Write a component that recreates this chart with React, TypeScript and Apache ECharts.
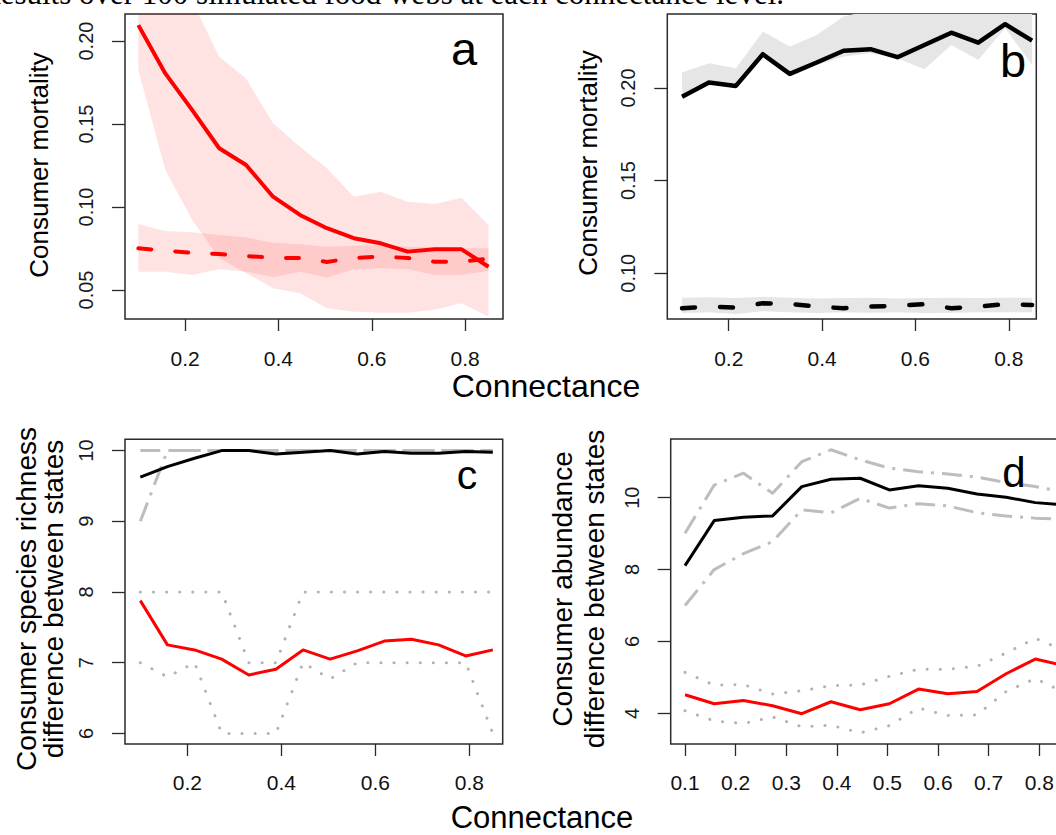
import React, { useEffect, useRef } from 'react';
import * as echarts from 'echarts';

// ---------- data ----------
const connectance = [0.1, 0.1577, 0.2154, 0.2731, 0.3308, 0.3885, 0.4462, 0.5038, 0.5615, 0.6192, 0.6769, 0.7346, 0.7923, 0.85];

// panel a (red)
const aSolidMean = [0.2096, 0.1805, 0.1584, 0.1354, 0.1253, 0.1062, 0.0952, 0.0872, 0.0812, 0.0781, 0.0731, 0.0745, 0.0745, 0.064];
const aSolidHigh = [0.25, 0.24, 0.224, 0.1905, 0.1775, 0.1504, 0.1363, 0.1233, 0.1062, 0.1092, 0.1032, 0.1018, 0.1056, 0.0892];
const aSolidLow = [0.1825, 0.1223, 0.0922, 0.0693, 0.0601, 0.051, 0.048, 0.039, 0.0369, 0.0363, 0.0363, 0.038, 0.042, 0.0339];
const aDashedMean = [0.0751, 0.0737, 0.0723, 0.0717, 0.0705, 0.0693, 0.0693, 0.0669, 0.0693, 0.0701, 0.0693, 0.067, 0.067, 0.0689];
const aDashedHigh = [0.0898, 0.0855, 0.0848, 0.0831, 0.0817, 0.0785, 0.0775, 0.0761, 0.0767, 0.0771, 0.0761, 0.0757, 0.0751, 0.0751];
const aDashedLow = [0.061, 0.061, 0.059, 0.0625, 0.061, 0.0577, 0.061, 0.0574, 0.0625, 0.0631, 0.0625, 0.059, 0.059, 0.0616];

// panel b (black)
const bSolidMean = [0.1953, 0.2029, 0.2011, 0.2182, 0.2076, 0.2137, 0.2201, 0.2209, 0.2166, 0.2232, 0.2298, 0.2244, 0.2344, 0.2255];
const bSolidHigh = [0.2083, 0.2133, 0.2106, 0.2304, 0.2223, 0.2286, 0.2385, 0.242, 0.245, 0.244, 0.248, 0.246, 0.25, 0.245];
const bSolidLow = [0.195, 0.2025, 0.2005, 0.2169, 0.2061, 0.2124, 0.2169, 0.2187, 0.216, 0.2101, 0.2232, 0.2151, 0.2322, 0.2124];
const bDashedMean = [0.0811, 0.082, 0.0815, 0.0838, 0.0835, 0.082, 0.0811, 0.082, 0.0824, 0.0833, 0.0811, 0.082, 0.0833, 0.0829];
const bDashedHigh = [0.0868, 0.087, 0.0866, 0.0873, 0.0868, 0.0863, 0.0866, 0.0868, 0.0863, 0.0866, 0.0868, 0.0866, 0.0868, 0.0868];
const bDashedLow = [0.0785, 0.079, 0.078, 0.0795, 0.079, 0.0785, 0.079, 0.0787, 0.079, 0.0785, 0.0787, 0.079, 0.079, 0.079];

// panel c (species richness difference)
const cBlack = [9.624, 9.774, 9.892, 10.0, 10.0, 9.953, 9.976, 10.0, 9.953, 9.986, 9.962, 9.962, 9.986, 9.976];
const cBlackHigh = [10, 10, 10, 10, 10, 10, 10, 10, 10, 10, 10, 10, 10, 10];
const cBlackLow = [9, 10, 10, 10, 10, 10, 10, 10, 10, 10, 10, 10, 10, 10];
const cRed = [7.878, 7.252, 7.181, 7.05, 6.827, 6.908, 7.181, 7.05, 7.167, 7.306, 7.332, 7.252, 7.096, 7.181];
const cRedHigh = [8, 8, 8, 8, 7, 7, 8, 8, 8, 8, 8, 8, 8, 8];
const cRedLow = [7, 6.8, 7, 6, 6, 6, 7, 6.77, 7, 7, 7, 7, 7, 6];

// panel d (abundance difference)
const dBlack = [8.111, 9.361, 9.456, 9.492, 10.306, 10.511, 10.539, 10.214, 10.333, 10.261, 10.103, 10.011, 9.861, 9.8];
const dBlackHigh = [9.01, 10.35, 10.68, 10.12, 11.0, 11.33, 11.05, 10.82, 10.72, 10.66, 10.57, 10.42, 10.31, 10.15];
const dBlackLow = [7.0, 8.0, 8.44, 8.78, 9.66, 9.58, 9.98, 9.71, 9.83, 9.77, 9.58, 9.49, 9.43, 9.4];
const dRed = [4.519, 4.269, 4.361, 4.214, 3.992, 4.325, 4.103, 4.269, 4.678, 4.547, 4.611, 5.103, 5.511, 5.33];
const dRedHigh = [5.14, 4.79, 4.8, 4.54, 4.63, 4.77, 4.79, 5.03, 5.23, 5.23, 5.31, 5.68, 6.09, 5.75];
const dRedLow = [4.075, 3.79, 3.72, 3.9, 3.63, 3.67, 3.46, 3.66, 4.15, 3.94, 3.96, 4.61, 4.97, 4.58];

// tick values
const xTicksABC = [0.2, 0.4, 0.6, 0.8];
const xTicksD = [0.1, 0.2, 0.3, 0.4, 0.5, 0.6, 0.7, 0.8];
const yTicksA = [0.05, 0.1, 0.15, 0.2];
const yTicksB = [0.1, 0.15, 0.2];
const yTicksC = [6, 7, 8, 9, 10];
const yTicksD = [4, 6, 8, 10];

const SANS = '"Liberation Sans", Arial, Helvetica, sans-serif';
const RED = '#ff0000';
const DOTDASH = '#bdbdbd';
const DOT = '#b3b3b3';

const pairs = (ys: number[]) => connectance.map((x, i) => [x, ys[i]]);

function band(idx: number, lo: number[], hi: number[], fill: string) {
  return {
    type: 'custom',
    xAxisIndex: idx,
    yAxisIndex: idx,
    clip: true,
    silent: true,
    z: 1,
    data: connectance.map((x, i) => [x, lo[i], hi[i]]),
    encode: { x: 0, y: [1, 2] },
    renderItem: (params: any, api: any) => {
      if (params.dataIndex !== 0) return null;
      const top = connectance.map((x, i) => api.coord([x, hi[i]]));
      const bot = connectance.map((x, i) => api.coord([x, lo[i]])).reverse();
      return {
        type: 'polygon',
        shape: { points: top.concat(bot) },
        style: { fill, stroke: 'none' },
      };
    },
  };
}

function line(idx: number, ys: number[], color: string, width: number, type: any, cap: string = 'butt', z = 3) {
  return {
    type: 'line',
    xAxisIndex: idx,
    yAxisIndex: idx,
    data: pairs(ys),
    showSymbol: false,
    symbol: 'none',
    silent: true,
    z,
    lineStyle: { color, width, type, cap, join: 'round' },
  };
}

function xAxis(idx: number, min: number, max: number, ticks: number[], margin: number) {
  return {
    type: 'value',
    gridIndex: idx,
    min,
    max,
    axisLine: { show: false },
    splitLine: { show: false },
    axisTick: { show: true, inside: false, length: 12, customValues: ticks, lineStyle: { color: '#2a2a2a', width: 1.3 } },
    axisLabel: {
      show: true,
      customValues: ticks,
      formatter: (v: number) => v.toFixed(1),
      margin,
      fontSize: 21,
      fontFamily: SANS,
      color: '#111',
    },
  };
}

function yAxis(idx: number, min: number, max: number, ticks: number[], dec: number) {
  return {
    type: 'value',
    gridIndex: idx,
    min,
    max,
    axisLine: { show: false },
    splitLine: { show: false },
    axisTick: { show: true, inside: false, length: 13, customValues: ticks, lineStyle: { color: '#2a2a2a', width: 1.3 } },
    axisLabel: {
      show: true,
      customValues: ticks,
      formatter: (v: number) => v.toFixed(dec),
      rotate: 90,
      margin: 29,
      fontSize: 20,
      fontFamily: SANS,
      color: '#1a1a1a',
    },
  };
}

function grid(left: number, top: number, width: number, height: number) {
  return {
    left, top, width, height,
    show: true,
    borderColor: '#2a2a2a',
    borderWidth: 1.5,
    backgroundColor: 'transparent',
    containLabel: false,
    outerBoundsMode: 'none',
  };
}

function label(text: string, x: number, y: number, size: number, rot = 0, family = SANS) {
  return {
    type: 'text',
    x,
    y,
    rotation: rot,
    silent: true,
    z: 10,
    style: { text, fontSize: size, fontFamily: family, fill: '#000', align: 'center', verticalAlign: 'middle' },
  };
}

export default function App() {
  const ref = useRef<HTMLDivElement>(null);
  useEffect(() => {
    if (!ref.current) return;
    const chart = echarts.init(ref.current, null, { renderer: 'svg' });
    const R = Math.PI / 2;
    const option: any = {
      animation: false,
      backgroundColor: '#ffffff',
      grid: [
        grid(125, 14, 378, 305),
        grid(667.3, 14, 369, 305),
        grid(125, 439.3, 377.7, 304.7),
        grid(670.7, 439, 409, 305),
      ],
      xAxis: [
        xAxis(0, 0.0714, 0.881, xTicksABC, 29),
        xAxis(1, 0.0684, 0.859, xTicksABC, 29),
        xAxis(2, 0.0674, 0.871, xTicksABC, 28),
        xAxis(3, 0.0717, 0.88, xTicksD, 28),
      ],
      yAxis: [
        yAxis(0, 0.0325, 0.2163, yTicksA, 2),
        yAxis(1, 0.0753, 0.2399, yTicksB, 2),
        yAxis(2, 5.85, 10.16, yTicksC, 0),
        yAxis(3, 3.15, 11.63, yTicksD, 0),
      ],
      series: [
        // a
        band(0, aSolidLow, aSolidHigh, 'rgba(255,0,0,0.11)'),
        band(0, aDashedLow, aDashedHigh, 'rgba(255,0,0,0.11)'),
        line(0, aSolidMean, RED, 4),
        line(0, aDashedMean, RED, 4, [13, 24], 'round'),
        // b
        band(1, bSolidLow, bSolidHigh, '#e6e6e6'),
        band(1, bDashedLow, bDashedHigh, '#e6e6e6'),
        line(1, bSolidMean, '#000', 4.5),
        line(1, bDashedMean, '#000', 4.5, [13, 25], 'round'),
        // c
        line(2, cBlackHigh, DOTDASH, 3, [20, 8, 3, 8], 'butt', 2),
        line(2, cBlackLow, DOTDASH, 3, [20, 8, 3, 8], 'butt', 2),
        line(2, cRedHigh, DOT, 3, [0.1, 13], 'round', 2),
        line(2, cRedLow, DOT, 3, [0.1, 13], 'round', 2),
        line(2, cBlack, '#000', 3),
        line(2, cRed, RED, 3),
        // d
        line(3, dBlackHigh, DOTDASH, 3, [20, 8, 3, 8], 'butt', 2),
        line(3, dBlackLow, DOTDASH, 3, [20, 8, 3, 8], 'butt', 2),
        line(3, dRedHigh, DOT, 3, [0.1, 13], 'round', 2),
        line(3, dRedLow, DOT, 3, [0.1, 13], 'round', 2),
        line(3, dBlack, '#000', 3),
        line(3, dRed, RED, 3),
      ],
      graphic: {
        elements: [
          {
            type: 'text',
            x: -20,
            y: -6.5,
            silent: true,
            style: {
              text: 'Results over 100 simulated food webs at each connectance level.',
              fontSize: 31,
              fontFamily: '"Liberation Serif", "DejaVu Serif", serif',
              fill: '#000',
              align: 'left',
              verticalAlign: 'middle',
            },
          },
          label('Consumer mortality', 39, 165, 26, R),
          label('Consumer mortality', 588, 163, 26, R),
          label('Consumer species richness', 26, 599, 28, R),
          label('difference between states', 53, 599, 28, R),
          label('Consumer abundance', 562, 589, 28, R),
          label('difference between states', 594, 589, 28, R),
          label('Connectance', 546, 386, 32),
          label('Connectance', 542, 817, 31),
          label('a', 464, 48.7, 47),
          label('b', 1013, 60.7, 47),
          label('c', 467, 474.8, 41),
          label('d', 1014, 472.4, 42),
        ],
      },
    };
    chart.setOption(option);
    return () => chart.dispose();
  }, []);
  return (
    <div
      ref={ref}
      style={{ position: 'absolute', left: 0, top: 0, width: 1056, height: 835, background: '#fff', overflow: 'hidden' }}
    />
  );
}
